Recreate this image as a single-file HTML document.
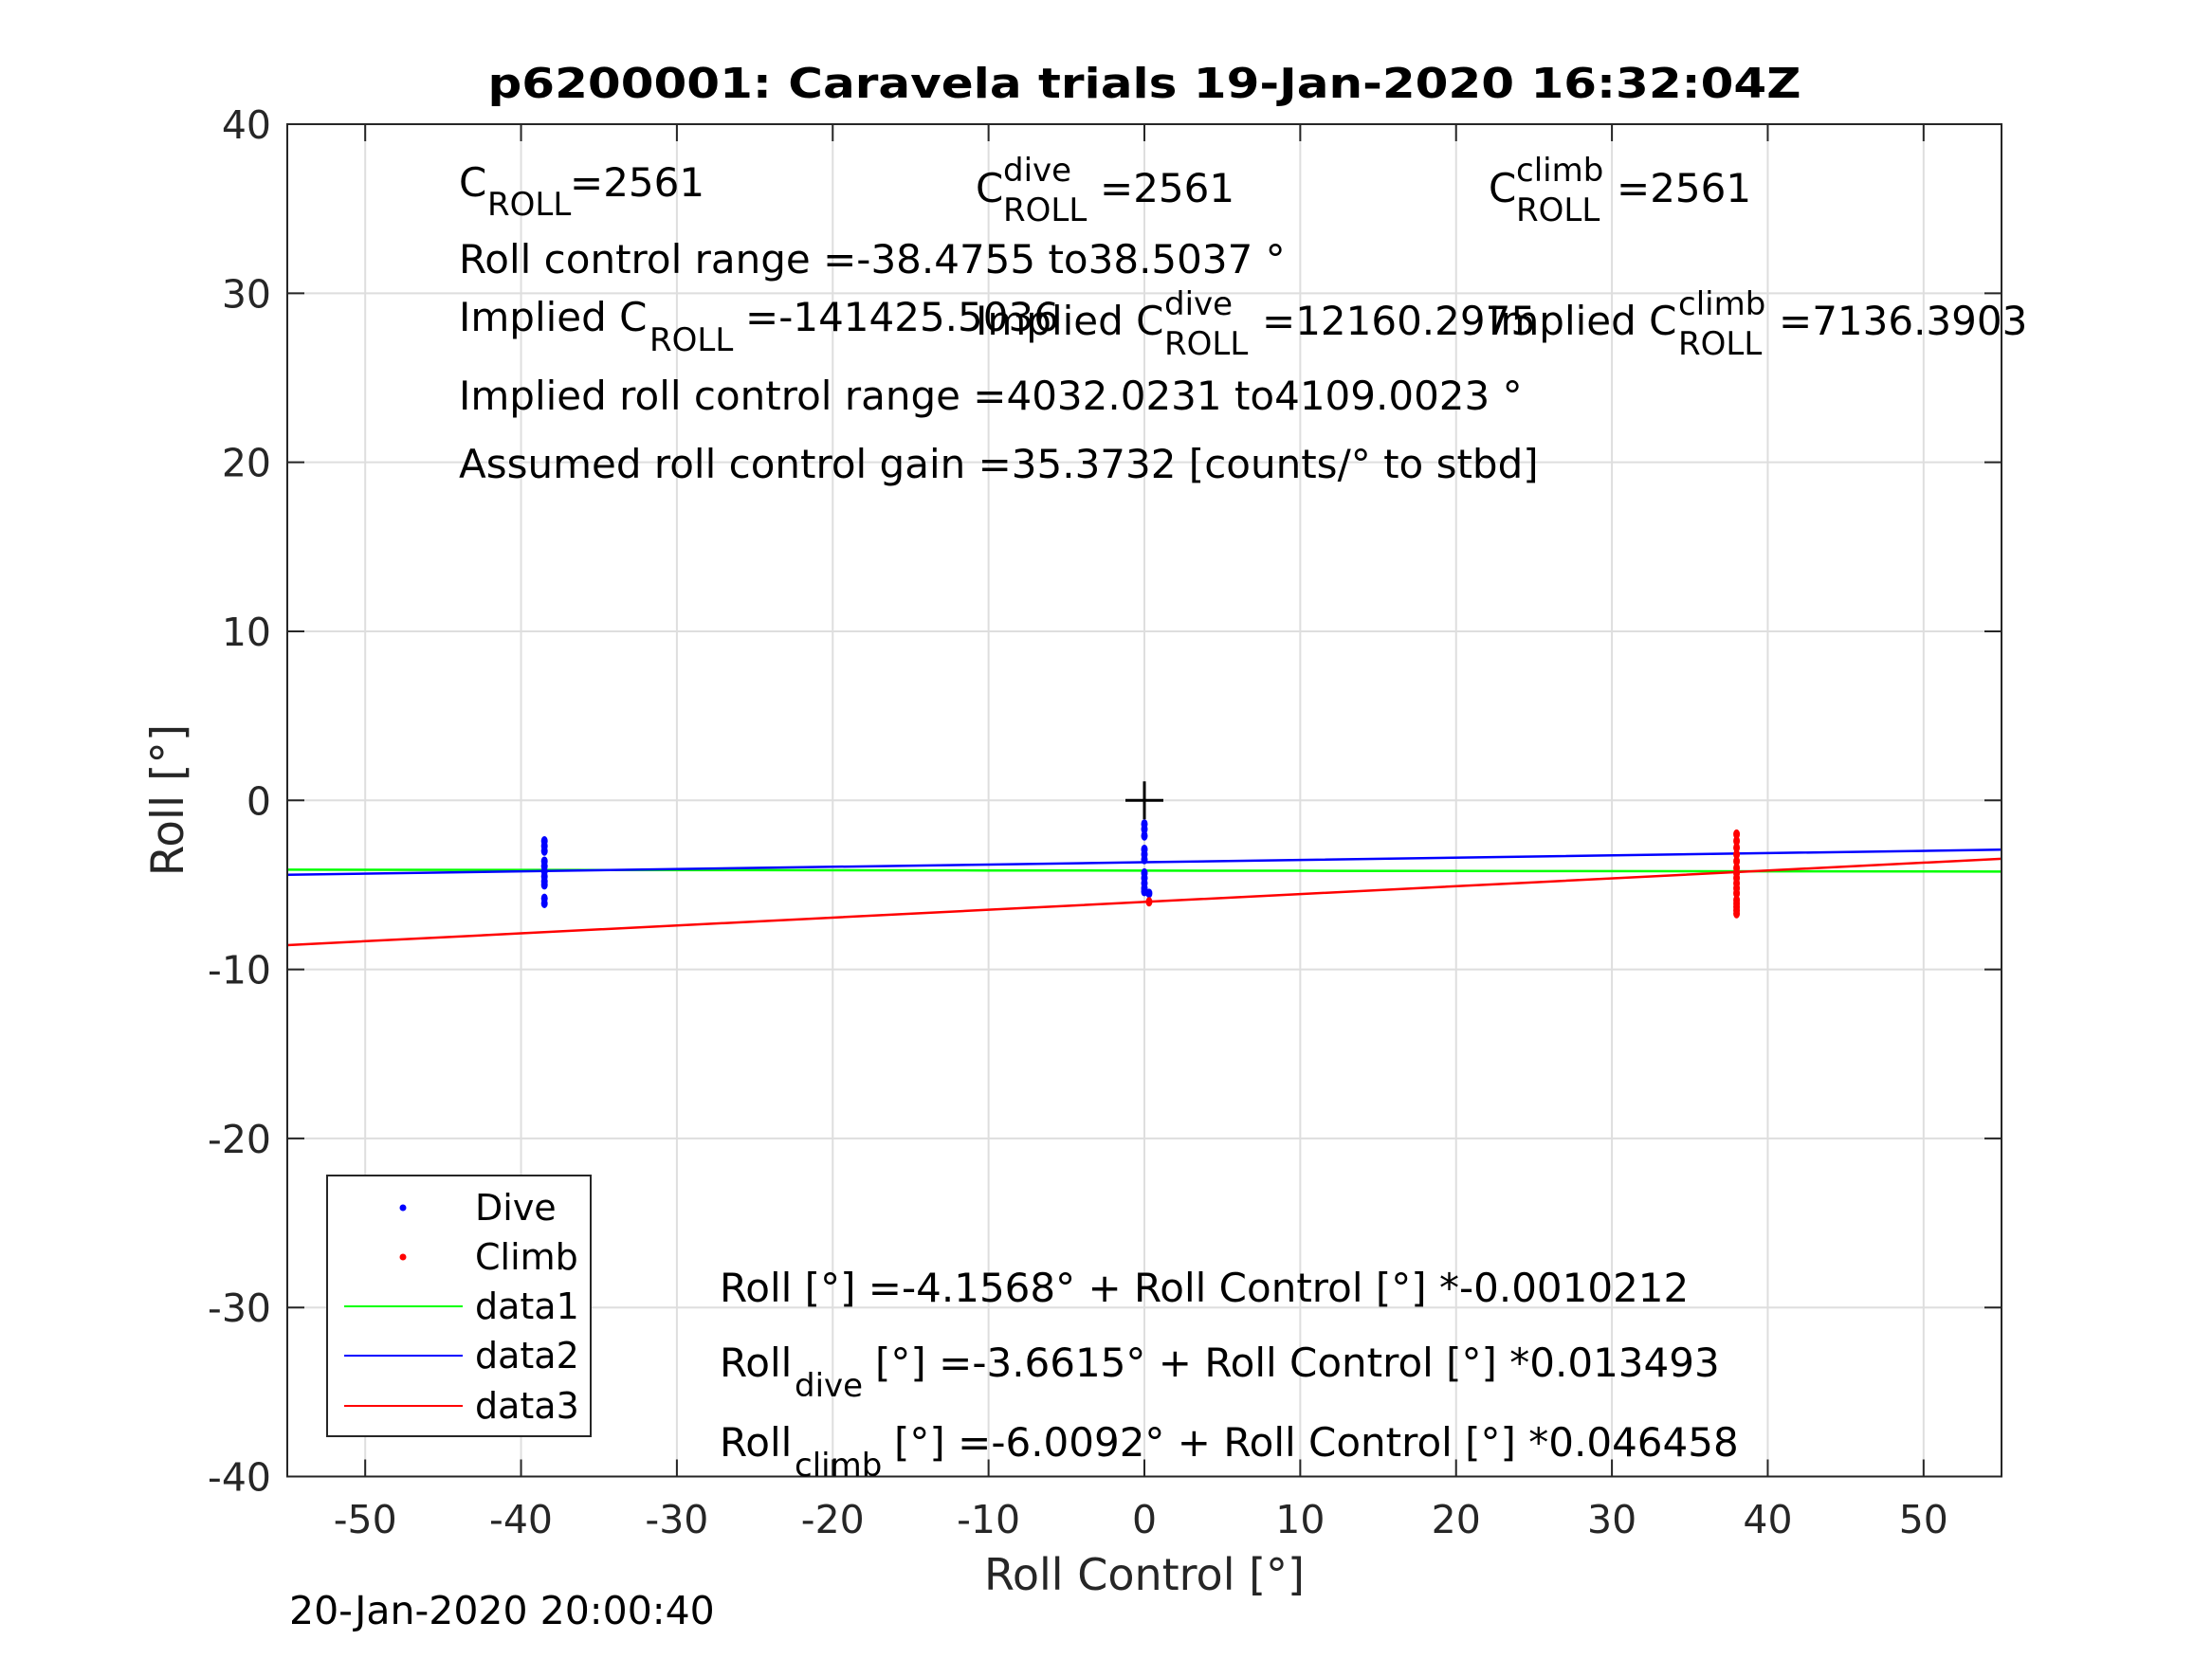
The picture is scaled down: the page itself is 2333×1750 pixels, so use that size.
<!DOCTYPE html>
<html><head><meta charset="utf-8"><style>
html,body{margin:0;padding:0;background:#fff}
svg{display:block;font-family:"DejaVu Sans","Liberation Sans",sans-serif}
</style></head><body>
<svg id="chart" width="2333" height="1750" viewBox="0 0 2333 1750" xmlns="http://www.w3.org/2000/svg">
<rect x="0" y="0" width="2333" height="1750" fill="#fff"/>
<g id="grid"></g>
<g id="series"></g>
<g id="axes"></g>
<text x="1207" y="103" text-anchor="middle" font-weight="bold" font-size="44" textLength="1385" lengthAdjust="spacingAndGlyphs">p6200001: Caravela trials 19-Jan-2020 16:32:04Z</text>
<text x="1207" y="1677" text-anchor="middle" font-size="46" fill="#262626">Roll Control [°]</text>
<text transform="translate(193,844) rotate(-90)" text-anchor="middle" font-size="47" fill="#262626">Roll [°]</text>
<text x="305" y="1713" font-size="41">20-Jan-2020 20:00:40</text>
<g font-size="42" fill="#000">
<text x="484" y="207">C</text>
<text x="514" y="227" font-size="34">ROLL</text>
<text x="601" y="207">=2561</text>
<text x="1029" y="213">C</text>
<text x="1058" y="191" font-size="34">dive</text>
<text x="1058" y="233" font-size="34">ROLL</text>
<text x="1160" y="213">=2561</text>
<text x="1570" y="213">C</text>
<text x="1599" y="191" font-size="34">climb</text>
<text x="1599" y="233" font-size="34">ROLL</text>
<text x="1705" y="213">=2561</text>
<text x="484" y="288">Roll control range =-38.4755 to38.5037 °</text>
<text x="484" y="349">Implied C</text>
<text x="685" y="370" font-size="34">ROLL</text>
<text x="786" y="349">=-141425.5036</text>
<text x="1029" y="353">Implied C</text>
<text x="1228" y="332" font-size="34">dive</text>
<text x="1228" y="374" font-size="34">ROLL</text>
<text x="1331" y="353">=12160.2975</text>
<text x="1570" y="353">Implied C</text>
<text x="1770" y="332" font-size="34">climb</text>
<text x="1770" y="374" font-size="34">ROLL</text>
<text x="1876" y="353">=7136.3903</text>
<text x="484" y="432">Implied roll control range =4032.0231 to4109.0023 °</text>
<text x="484" y="504">Assumed roll control gain =35.3732 [counts/° to stbd]</text>
<text x="759" y="1373">Roll [°] =-4.1568° + Roll Control [°] *-0.0010212</text>
<text x="759" y="1452">Roll</text>
<text x="838" y="1473" font-size="34">dive</text>
<text x="923" y="1452">[°] =-3.6615° + Roll Control [°] *0.013493</text>
<text x="759" y="1536">Roll</text>
<text x="838" y="1557" font-size="34">climb</text>
<text x="943" y="1536">[°] =-6.0092° + Roll Control [°] *0.046458</text>
</g>
<g>
<rect x="345" y="1240" width="278" height="275" fill="#fff" stroke="#262626" stroke-width="2"/>
<circle cx="425" cy="1274" r="3.5" fill="#00f"/>
<text x="501" y="1287" font-size="38">Dive</text>
<circle cx="425" cy="1326" r="3.5" fill="#f00"/>
<text x="501" y="1339" font-size="38">Climb</text>
<line x1="363" y1="1378" x2="488" y2="1378" stroke="#0f0" stroke-width="2"/>
<text x="501" y="1391" font-size="38">data1</text>
<line x1="363" y1="1430" x2="488" y2="1430" stroke="#00f" stroke-width="2"/>
<text x="501" y="1443" font-size="38">data2</text>
<line x1="363" y1="1483" x2="488" y2="1483" stroke="#f00" stroke-width="2"/>
<text x="501" y="1496" font-size="38">data3</text>
</g>
</svg>
<script>
const xTicks = [-50,-40,-30,-20,-10,0,10,20,30,40,50];
const yTicks = [-40,-30,-20,-10,0,10,20,30,40];
const lineX = [-55,-40,-25,-10,0,10,25,40,55];
const fitAll = [-4.1568,-0.0010212];
const fitDive = [-3.6615,0.013493];
const fitClimb = [-6.0092,0.046458];
const diveX = [-38.5,-38.5,-38.5,-38.5,-38.5,-38.5,-38.5,-38.5,-38.5,-38.5,-38.5,0,0,0,0,0,0,0,0,0,0,0,0.3];
const diveY = [-2.4,-2.7,-3.0,-3.6,-3.9,-4.2,-4.5,-4.8,-5.0,-5.8,-6.1,-1.4,-1.7,-2.1,-2.9,-3.2,-3.5,-4.3,-4.6,-4.9,-5.2,-5.4,-5.5];
const climbX = [38,38,38,38,38,38,38,38,38,38,38,38,38,38,38,38,0.3];
const climbY = [-2.0,-2.4,-2.8,-3.2,-3.6,-4.0,-4.3,-4.6,-4.9,-5.2,-5.5,-5.9,-6.1,-6.3,-6.5,-6.7,-6.0];
const NS='http://www.w3.org/2000/svg';
const L=303,R=2111,T=131,B=1557.5;
const sx=v=>L+(v+55)/110*(R-L);
const sy=v=>T+(40-v)/80*(B-T);
function mk(tag,attrs,parent){const e=document.createElementNS(NS,tag);for(const k in attrs)e.setAttribute(k,attrs[k]);parent.appendChild(e);return e;}
const grid=document.getElementById('grid'),axes=document.getElementById('axes'),series=document.getElementById('series');
xTicks.forEach(v=>{
  const g=mk('line',{x1:sx(v),x2:sx(v),y1:T,y2:B,stroke:'#dedede','stroke-width':2},grid);
  
  
  const t1=mk('line',{x1:sx(v),x2:sx(v),y1:B,y2:B-18,stroke:'#262626','stroke-width':2},axes);
  
  
  mk('line',{x1:sx(v),x2:sx(v),y1:T,y2:T+18,stroke:'#262626','stroke-width':2},axes);
  const lb=mk('text',{x:sx(v),y:1617,'text-anchor':'middle','font-size':41,fill:'#262626'},axes);
  lb.textContent=String(v);
  
  
});
yTicks.forEach(v=>{
  const g=mk('line',{x1:L,x2:R,y1:sy(v),y2:sy(v),stroke:'#dedede','stroke-width':2},grid);
  
  
  const t1=mk('line',{x1:L,x2:L+18,y1:sy(v),y2:sy(v),stroke:'#262626','stroke-width':2},axes);
  
  
  mk('line',{x1:R,x2:R-18,y1:sy(v),y2:sy(v),stroke:'#262626','stroke-width':2},axes);
  const lb=mk('text',{x:286,y:sy(v)+15,'text-anchor':'end','font-size':41,fill:'#262626'},axes);
  lb.textContent=String(v);
  
  
});
const frame=mk('rect',{x:L,y:T,width:R-L,height:B-T,fill:'none',stroke:'#262626','stroke-width':2},axes);


function fitLine(f,color,name){
  const pts=lineX.map(x=>sx(x)+','+sy(f[0]+f[1]*x)).join(' ');
  const p=mk('polyline',{points:pts,fill:'none',stroke:color,'stroke-width':2.5},series);
  
  
}
fitLine(fitAll,'#00ff00','data1-line');
fitLine(fitDive,'#0000ff','data2-line');
fitLine(fitClimb,'#ff0000','data3-line');
diveX.forEach((x,i)=>{
  const c=mk('ellipse',{cx:sx(x),cy:sy(diveY[i]),rx:3.5,ry:5,fill:'#00f'},series);
  
  
});
climbX.forEach((x,i)=>{
  const c=mk('ellipse',{cx:sx(x),cy:sy(climbY[i]),rx:3.5,ry:5,fill:'#f00'},series);
  
  
});
const cx=sx(0),cy=sy(0);
const plus=mk('path',{d:`M${cx-20},${cy}H${cx+20}M${cx},${cy-20}V${cy+20}`,stroke:'#000','stroke-width':3},series);


</script>
</body></html>
